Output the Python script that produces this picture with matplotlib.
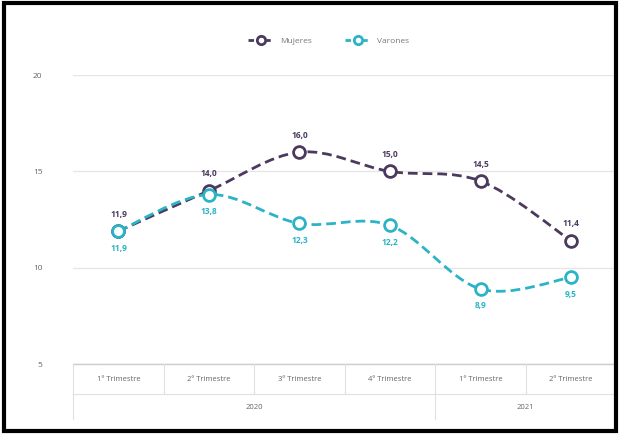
import matplotlib
matplotlib.use("Agg")
import matplotlib.pyplot as plt
import numpy as np
from matplotlib.path import Path
from matplotlib.patches import PathPatch, Rectangle
from matplotlib.lines import Line2D

plt.rcParams["font.family"] = ["Open Sans", "DejaVu Sans"]

quarters = ["1º Trimestre", "2º Trimestre", "3º Trimestre", "4º Trimestre",
            "1º Trimestre", "2º Trimestre"]
years = ["2020", "2021"]
year_counts = [4, 2]
mujeres = [11.9, 14.0, 16.0, 15.0, 14.5, 11.4]
varones = [11.9, 13.8, 12.3, 12.2, 8.9, 9.5]
yticks = [5, 10, 15, 20]

c_muj = "#4b3a5e"
c_var = "#2bb3c6"

fig = plt.figure(figsize=(6.2, 4.34), dpi=100)
ax = fig.add_axes([0.118, 0.161, 0.876, 0.666])
x = np.arange(len(quarters))


def spline_path(xs, ys, k=1 / 6):
    # cubic bezier through the points (Catmull-Rom style control points)
    pts = np.column_stack([xs, ys]).astype(float)
    verts = [pts[0]]
    codes = [Path.MOVETO]
    n = len(pts)
    for i in range(n - 1):
        p0 = pts[i - 1] if i > 0 else pts[i]
        p1, p2 = pts[i], pts[i + 1]
        p3 = pts[i + 2] if i + 2 < n else pts[i + 1]
        c1 = p1 + (p2 - p0) * k
        c2 = p2 - (p3 - p1) * k
        verts += [c1, c2, p2]
        codes += [Path.CURVE4] * 3
    return Path(verts, codes)


for vals, col, off in [(mujeres, c_muj, 1), (varones, c_var, -1)]:
    ax.add_patch(PathPatch(spline_path(x, vals), fill=False, edgecolor=col,
                           lw=2, ls=(0, (3.5, 1.8)), zorder=3))
    ax.plot(x, vals, ls="none", marker="o", ms=8.5, mfc="white", mec=col,
            mew=2, zorder=4)
    for xi, v in zip(x, vals):
        ax.annotate(f"{v:.1f}".replace(".", ","), (xi, v),
                    xytext=(0, 9 * off), textcoords="offset points",
                    ha="center", va="bottom" if off > 0 else "top",
                    fontsize=6, fontweight="bold", color=col)

ax.set_xlim(-0.5, len(quarters) - 0.5)
ax.set_ylim(5, 20)
ax.set_yticks(yticks)
ax.tick_params(axis="y", length=0, labelsize=6, colors="#666666", pad=22)
ax.set_xticks([])
ax.grid(axis="y", color="#e6e6e6", lw=1)
ax.set_axisbelow(True)
for s in ax.spines.values():
    s.set_visible(False)

# category boxes under the axis
tr = ax.get_xaxis_transform()
box = "#e0e0e0"
ax.plot([-0.5, 5.5], [0, 0], color="#cccccc", lw=1, transform=tr, clip_on=False)
for b in np.arange(-0.5, 6, 1):
    bottom = -0.19 if b in (-0.5, 3.5, 5.5) else -0.105
    ax.plot([b, b], [0, bottom], color=box, lw=0.8, transform=tr, clip_on=False)
ax.plot([-0.5, 5.5], [-0.105, -0.105], color=box, lw=0.8, transform=tr,
        clip_on=False)
for xi, q in zip(x, quarters):
    ax.text(xi, -0.052, q, transform=tr, ha="center", va="center",
            fontsize=5.5, color="#666666")
start = -0.5
for yr, cnt in zip(years, year_counts):
    ax.text(start + cnt / 2, -0.15, yr, transform=tr, ha="center",
            va="center", fontsize=5.5, color="#666666")
    start += cnt

handles = [Line2D([], [], color=c, lw=2, ls=(0, (2, 1)), marker="o", ms=6,
                  mfc="white", mec=c, mew=2) for c in (c_muj, c_var)]
fig.legend(handles, ["Mujeres", "Varones"], loc="center",
           bbox_to_anchor=(0.53, 0.905), ncol=2, frameon=False, fontsize=6,
           labelcolor="#777777", handlelength=3, columnspacing=4)

fig.add_artist(Rectangle((0.006, 0.006), 0.988, 0.988, transform=fig.transFigure,
                         fill=False, edgecolor="black", lw=3))

fig.savefig("out.png", dpi=100)
